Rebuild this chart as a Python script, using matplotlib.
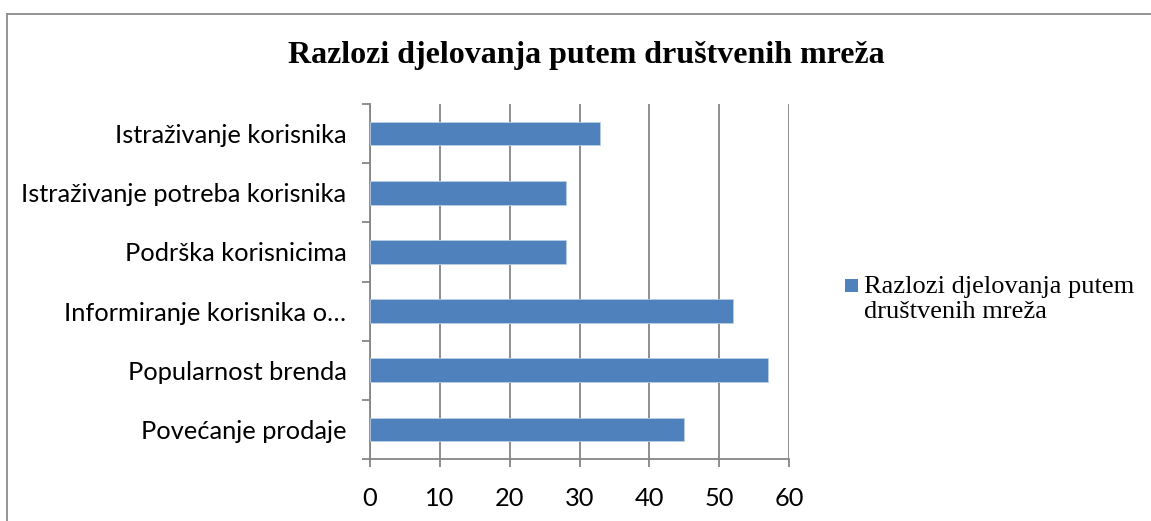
import matplotlib
matplotlib.use("Agg")
import matplotlib.pyplot as plt
from matplotlib.lines import Line2D
from matplotlib.patches import Rectangle
import numpy as np

title = "Razlozi djelovanja putem društvenih mreža"
series_name = "Razlozi djelovanja putem\ndruštvenih mreža"
categories = ["Povećanje prodaje", "Popularnost brenda", "Informiranje korisnika o…",
              "Podrška korisnicima", "Istraživanje potreba korisnika", "Istraživanje korisnika"]
values = [45, 57, 52, 28, 28, 33]
xticks = [0, 10, 20, 30, 40, 50, 60]

W, H = 1151, 521
fig = plt.figure(figsize=(W / 100, H / 100), dpi=100)
fig.patch.set_facecolor("white")
bar_color = "#4F81BD"

# outer chart border
border = "#8c8c8c"
fig.add_artist(Line2D([7 / W, 7 / W], [0, 1 - 14 / H], transform=fig.transFigure, color=border, lw=1.3))
fig.add_artist(Line2D([7 / W, 1], [1 - 14 / H, 1 - 14 / H], transform=fig.transFigure, color=border, lw=1.3))

ax = fig.add_axes([370 / W, 1 - 459 / H, (789 - 370) / W, (459 - 104) / H])
y = np.arange(len(categories))
ax.barh(y, values, height=0.4, color=bar_color, edgecolor="#B9CDE5", linewidth=0.6, zorder=3)
ax.set_xlim(0, 60)
ax.set_ylim(-0.5, len(categories) - 0.5)

gridc = "#868686"
ax.set_xticks(xticks)
ax.set_xticklabels([str(v) for v in xticks])
ax.xaxis.grid(True, color=gridc, linewidth=1.3, zorder=0)
ax.set_yticks(y)
ax.set_yticklabels(categories)
ax.set_yticks(np.arange(-0.5, len(categories)), minor=True)
ax.tick_params(axis="y", which="major", length=0, pad=17)
ax.tick_params(axis="y", which="minor", length=6, width=1.3, color=gridc, direction="out")
ax.tick_params(axis="x", which="major", length=6, width=1.3, color=gridc, direction="out", pad=14)

fam = ["Lato", "DejaVu Sans"]
for t in ax.get_yticklabels():
    t.set_fontfamily(fam); t.set_fontsize(18.3); t.set_color("black")
for t in ax.get_xticklabels():
    t.set_fontfamily(fam); t.set_fontsize(18.3); t.set_color("black")

for s in ["top", "right"]:
    ax.spines[s].set_visible(False)
for s in ["left", "bottom"]:
    ax.spines[s].set_color(gridc)
    ax.spines[s].set_linewidth(1.3)

fig.text(586 / W, 1 - 55 / H, title, ha="center", va="center",
         fontfamily="Liberation Serif", fontweight="bold", fontsize=23)

# legend (marker aligned with first line of the label, as in the original)
fig.add_artist(Rectangle((845 / W, 1 - 292 / H), 13 / W, 13 / H, transform=fig.transFigure,
                         facecolor=bar_color, edgecolor="none"))
fig.text(864 / W, 1 - 276 / H, series_name, ha="left", va="top",
         fontfamily="Liberation Serif", fontsize=19, linespacing=1.17)

fig.savefig("out.png", dpi=100)
